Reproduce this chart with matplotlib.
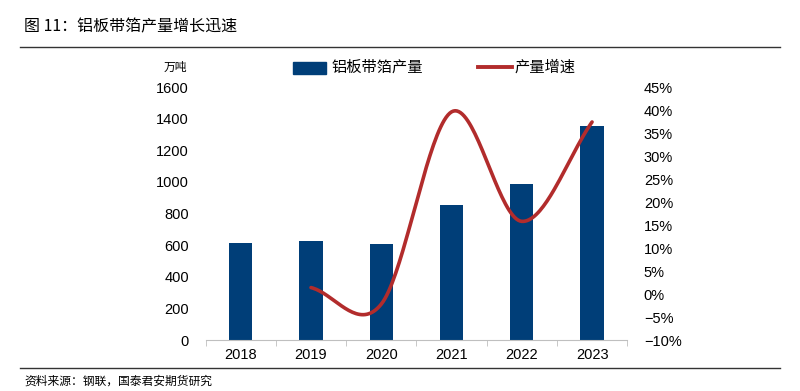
import numpy as np
import matplotlib.pyplot as plt
from matplotlib.ticker import FuncFormatter, MultipleLocator

plt.rcParams['font.family'] = ['Liberation Sans', 'Noto Sans CJK SC', 'DejaVu Sans']
plt.rcParams['axes.unicode_minus'] = True

years = ["2018", "2019", "2020", "2021", "2022", "2023"]
output = [613, 626, 610, 854, 987, 1353]          # 万吨
growth_years = ["2019", "2020", "2021", "2022", "2023"]
growth = [1.4, -2.2, 39.6, 15.8, 37.4]             # %

BAR_COLOR = "#003E78"
LINE_COLOR = "#B22C2C"
CJK = ['Noto Sans CJK SC', 'DejaVu Sans']


def smooth_curve(x, y, n=40):
    # Catmull-Rom style smoothing, similar to a spreadsheet "smoothed line"
    x = np.asarray(x, float)
    y = np.asarray(y, float)
    px = np.concatenate([[2 * x[0] - x[1]], x, [2 * x[-1] - x[-2]]])
    py = np.concatenate([[2 * y[0] - y[1]], y, [2 * y[-1] - y[-2]]])
    xs, ys = [], []
    t = np.linspace(0, 1, n)
    for i in range(1, len(px) - 2):
        for p, out in ((px, xs), (py, ys)):
            p0, p1, p2, p3 = p[i - 1], p[i], p[i + 1], p[i + 2]
            m1 = (p2 - p0) / 2
            m2 = (p3 - p1) / 2
            h00 = 2 * t**3 - 3 * t**2 + 1
            h10 = t**3 - 2 * t**2 + t
            h01 = -2 * t**3 + 3 * t**2
            h11 = t**3 - t**2
            out.extend(h00 * p1 + h10 * m1 + h01 * p2 + h11 * m2)
    return np.array(xs), np.array(ys)


fig = plt.figure(figsize=(8, 3.91), dpi=100)
ax = fig.add_axes([0.257, 0.1304, 0.527, 0.647])

x = np.arange(len(years))
ax.bar(x, output, width=0.33, color=BAR_COLOR, zorder=2)
ax.set_xlim(-0.5, len(years) - 0.5)
ax.set_ylim(0, 1600)
ax.yaxis.set_major_locator(MultipleLocator(200))
ax.set_xticks(x)
ax.set_xticklabels(years)
ax.set_xticks(np.arange(-0.5, len(years)), minor=True)
ax.tick_params(axis='x', which='major', length=0, labelsize=10.5, pad=6)
ax.tick_params(axis='x', which='minor', length=4, color="#BFBFBF", direction='out')
ax.tick_params(axis='y', length=0, labelsize=10.5, pad=12)
for s in ["top", "right", "left"]:
    ax.spines[s].set_visible(False)
ax.spines["bottom"].set_color("#BFBFBF")

ax2 = ax.twinx()
gx = [years.index(y) for y in growth_years]
sx, sy = smooth_curve(gx, growth)
ax2.plot(sx, sy, color=LINE_COLOR, lw=2.6, solid_capstyle='round', zorder=3)
ax2.set_ylim(-10, 45)
ax2.yaxis.set_major_locator(MultipleLocator(5))
ax2.yaxis.set_major_formatter(FuncFormatter(lambda v, p: f"{v:.0f}%".replace("-", "\u2212")))
ax2.tick_params(axis='y', length=0, labelsize=10.5, pad=12)
for s in ax2.spines.values():
    s.set_visible(False)

# legend-like header
fig.text(0.219, 0.828, "万吨", fontsize=8.5, family=CJK, ha='center', va='center')
fig.patches.append(plt.Rectangle((0.366, 0.812), 0.042, 0.03, transform=fig.transFigure,
                                 color=BAR_COLOR))
fig.text(0.414, 0.828, "铝板带箔产量", fontsize=11, family=CJK, va='center')
fig.lines.append(plt.Line2D([0.598, 0.64], [0.828, 0.828], transform=fig.transFigure,
                            color=LINE_COLOR, lw=2.8))
fig.text(0.643, 0.828, "产量增速", fontsize=11, family=CJK, va='center')

# title and footer
fig.text(0.03, 0.93, "图 11：铝板带箔产量增长迅速", fontsize=11.5, family=CJK, va='center')
fig.lines.append(plt.Line2D([0.025, 0.975], [0.88, 0.88], transform=fig.transFigure,
                            color="#333333", lw=1.0))
fig.lines.append(plt.Line2D([0.025, 0.975], [0.058, 0.058], transform=fig.transFigure,
                            color="#333333", lw=1.0))
fig.text(0.03, 0.025, "资料来源：钢联，国泰君安期货研究", fontsize=8.5, family=CJK, va='center')

fig.savefig("out.png", dpi=100)
